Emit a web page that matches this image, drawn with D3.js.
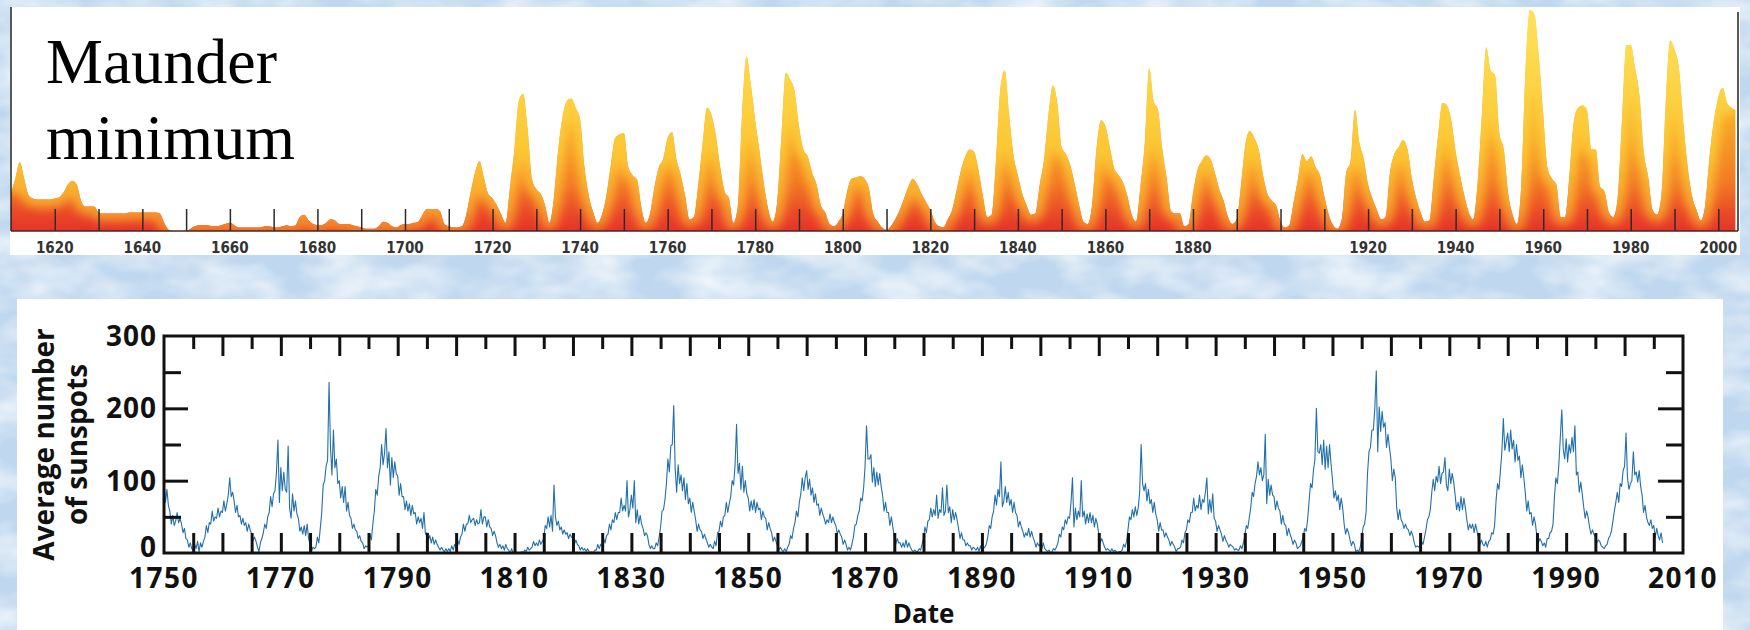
<!DOCTYPE html>
<html lang="en">
<head>
<meta charset="utf-8">
<title>Sunspots</title>
<script src="https://cdn.jsdelivr.net/npm/d3@7.9.0/dist/d3.min.js"></script>
<style>
  html, body { margin: 0; padding: 0; background: #c4dbf1; overflow: hidden; }
  svg { display: block; }
</style>
</head>
<body>
<svg id="chart" width="1750" height="630"></svg>
<script>
// Top strip: yearly sunspot numbers, one value per year from 1610
const stripFirstYear = 1610;
const stripLastYear = 2003.9; // the strip record stops here
const stripValues = [
  33, 45, 59, 45, 31, 28, 27, 27, 27, 27,      // 1610s
  28, 29, 33, 40, 43, 40, 26, 21, 21, 21,      // 1620s
  16, 15, 15, 15, 15, 15, 15, 16, 16, 16,      // 1630s
  16, 16, 16, 16, 15, 7, 1, 0, 0, 0,           // 1640s
  0, 2, 4, 5, 5, 5, 4, 4, 5, 6,                // 1650s
  7, 5, 3, 3, 3, 3, 3, 3, 4, 4,                // 1660s
  3, 3, 4, 5, 4, 5, 12, 14, 9, 6,              // 1670s
  5, 5, 7, 10, 9, 6, 6, 6, 5, 4,               // 1680s
  3, 2, 2, 2, 4, 8, 7, 4, 3, 5,                // 1690s
  6, 6, 7, 8, 14, 19, 19, 19, 17, 6,           // 1700s
  4, 3, 3, 4, 14, 33, 50, 60, 46, 32,          // 1710s
  28, 22, 14, 7, 38, 70, 112, 118, 88, 45,     // 1720s
  36, 32, 22, 7, 28, 70, 98, 112, 114, 106,    // 1730s
  96, 55, 30, 16, 7, 14, 30, 56, 80, 83,       // 1740s
  84, 55, 48, 44, 20, 7, 15, 38, 55, 62,       // 1750s
  80, 85, 62, 48, 30, 10, 12, 40, 75, 106,     // 1760s
  100, 82, 55, 34, 28, 7, 20, 100, 150, 126,   // 1770s
  95, 68, 40, 18, 8, 24, 82, 136, 130, 120,    // 1780s
  90, 70, 64, 50, 40, 22, 16, 6, 4, 8,         // 1790s
  15, 34, 45, 46, 47, 45, 36, 14, 8, 3,        // 1800s
  1, 4, 10, 18, 28, 38, 45, 40, 32, 25,        // 1810s
  18, 8, 4, 3, 10, 18, 35, 52, 64, 70,         // 1820s
  68, 52, 30, 12, 14, 60, 122, 138, 100, 65,   // 1830s
  48, 32, 22, 14, 15, 40, 62, 100, 125, 110,   // 1840s
  72, 66, 56, 40, 22, 8, 6, 24, 72, 95,        // 1850s
  90, 72, 54, 48, 42, 30, 14, 8, 38, 76,       // 1860s
  140, 112, 104, 70, 45, 17, 15, 15, 4, 6,     // 1870s
  32, 52, 60, 65, 62, 50, 36, 26, 12, 6,       // 1880s
  10, 40, 75, 86, 80, 70, 48, 32, 26, 22,      // 1890s
  8, 3, 5, 25, 45, 66, 60, 64, 55, 48,         // 1900s
  30, 14, 5, 2, 10, 50, 60, 104, 76, 62,       // 1910s
  40, 28, 18, 10, 12, 50, 66, 72, 78, 70,      // 1920s
  45, 28, 16, 8, 9, 45, 82, 110, 108, 95,      // 1930s
  68, 48, 30, 16, 10, 40, 100, 158, 138, 134,  // 1940s
  84, 70, 32, 14, 6, 40, 142, 190, 186, 150,   // 1950s
  100, 54, 45, 40, 12, 12, 48, 94, 106, 108,   // 1960s
  104, 70, 70, 38, 34, 16, 12, 28, 95, 160,    // 1970s
  160, 140, 116, 67, 46, 18, 14, 30, 110, 164, // 1980s
  156, 140, 94, 55, 30, 18, 9, 22, 64, 95,     // 1990s
  115, 123, 110, 106                           // 2000-2003
];
const stripLabelYears = [1620, 1640, 1660, 1680, 1700, 1720, 1740, 1760, 1780, 1800,
  1820, 1840, 1860, 1880, 1920, 1940, 1960, 1980, 2000];

// Lower chart: average number of sunspots, four readings per year from 1750
const countFirstYear = 1750;
const readingsPerYear = 4;
const sunspotCounts = [
  // 1750s
  98, 70, 88, 66, 58, 40, 52, 38, 44, 56, 42, 48, 40, 28, 34, 20, 18, 8, 14, 6,
  4, 12, 6, 16, 2, 14, 8, 16, 22, 38, 28, 42, 40, 58, 44, 50, 48, 62, 50, 58,
  // 1760s
  56, 72, 58, 68, 80, 104, 78, 84, 72, 56, 66, 50, 52, 40, 48, 38, 42, 30, 40, 32,
  26, 18, 22, 16, 8, 2, 14, 20, 28, 40, 34, 50, 56, 78, 64, 82, 86, 112, 156, 70,
  // 1770s
  118, 86, 112, 88, 84, 148, 62, 48, 82, 58, 72, 54, 48, 30, 36, 26, 38, 24, 40, 20,
  12, 2, 8, 6, 8, 22, 14, 34, 56, 94, 100, 120, 128, 236, 146, 108, 170, 118, 130, 96,
  // 1780s
  100, 76, 92, 70, 92, 58, 70, 52, 48, 34, 40, 32, 30, 20, 24, 16, 14, 6, 10, 8,
  10, 26, 18, 40, 58, 88, 80, 106, 118, 150, 122, 138, 172, 118, 140, 94, 132, 104, 126, 110,
  // 1790s
  106, 80, 96, 78, 78, 60, 72, 58, 68, 52, 66, 54, 56, 40, 50, 42, 48, 34, 56, 26,
  28, 18, 24, 14, 22, 12, 18, 12, 8, 4, 8, 4, 2, 6, 2, 6, 2, 10, 4, 12,
  // 1800s
  8, 18, 12, 22, 26, 40, 30, 40, 40, 52, 42, 46, 48, 38, 46, 40, 42, 60, 40, 50,
  50, 36, 46, 36, 34, 24, 30, 24, 14, 8, 12, 6, 10, 4, 12, 6, 4, 0, 6, 0,
  // 1810s
  0, 0, 0, 0, 0, 2, 0, 4, 2, 8, 4, 6, 8, 16, 10, 14, 10, 18, 12, 16,
  20, 38, 34, 50, 36, 52, 30, 94, 50, 38, 44, 32, 36, 26, 32, 26, 28, 20, 26, 22,
  // 1820s
  20, 12, 18, 12, 10, 4, 8, 4, 6, 2, 6, 2, 0, 2, 0, 4, 4, 12, 6, 12,
  10, 20, 14, 24, 26, 40, 32, 46, 42, 56, 46, 56, 56, 76, 58, 66, 58, 100, 50, 60,
  // 1830s
  80, 62, 100, 42, 60, 40, 52, 40, 34, 24, 28, 24, 12, 6, 10, 6, 6, 14, 10, 22,
  36, 58, 60, 74, 96, 130, 112, 148, 150, 204, 116, 84, 122, 96, 108, 86, 104, 74, 96, 68,
  // 1840s
  76, 56, 70, 58, 46, 30, 40, 32, 30, 20, 26, 20, 14, 8, 12, 8, 6, 16, 10, 28,
  30, 44, 36, 50, 52, 70, 56, 68, 78, 100, 94, 122, 178, 110, 124, 88, 120, 84, 100, 82,
  // 1850s
  76, 58, 72, 60, 74, 56, 70, 60, 62, 46, 58, 50, 48, 32, 42, 34, 28, 16, 22, 16,
  10, 4, 8, 4, 2, 6, 2, 8, 12, 24, 20, 34, 42, 58, 50, 70, 82, 104, 86, 104,
  // 1860s
  114, 88, 102, 80, 90, 70, 82, 66, 68, 52, 62, 54, 48, 40, 46, 42, 54, 42, 50, 42,
  38, 26, 32, 26, 22, 12, 18, 12, 4, 8, 4, 12, 22, 38, 40, 52, 58, 76, 72, 90,
  // 1870s
  120, 176, 130, 130, 136, 98, 118, 92, 112, 94, 110, 92, 80, 58, 70, 56, 56, 38, 50, 36,
  22, 12, 20, 14, 14, 8, 14, 8, 18, 8, 14, 8, 4, 2, 4, 2, 2, 6, 4, 12,
  // 1880s
  20, 36, 28, 44, 46, 62, 50, 60, 52, 80, 48, 60, 56, 90, 52, 58, 94, 56, 64, 42,
  60, 46, 56, 46, 34, 20, 28, 18, 18, 10, 14, 10, 10, 4, 8, 6, 4, 8, 2, 10,
  // 1890s
  2, 6, 8, 12, 22, 38, 34, 50, 58, 80, 66, 88, 78, 126, 64, 72, 92, 70, 84, 66,
  74, 56, 70, 56, 52, 36, 44, 36, 30, 22, 28, 24, 34, 22, 30, 22, 16, 8, 14, 10,
  // 1900s
  12, 6, 14, 6, 4, 2, 4, 0, 2, 6, 4, 8, 14, 26, 22, 36, 32, 46, 40, 50,
  48, 70, 104, 36, 62, 46, 58, 50, 100, 50, 58, 40, 54, 42, 56, 42, 52, 36, 48, 40,
  // 1910s
  26, 14, 20, 14, 8, 4, 6, 4, 2, 6, 2, 4, 2, 0, 2, 2, 4, 12, 8, 16,
  32, 50, 46, 60, 50, 64, 52, 62, 84, 150, 96, 86, 96, 72, 88, 68, 74, 56, 70, 54,
  // 1920s
  46, 30, 42, 32, 32, 22, 28, 22, 18, 10, 16, 12, 8, 2, 6, 6, 8, 18, 14, 28,
  32, 46, 42, 56, 56, 76, 58, 66, 62, 80, 60, 74, 70, 84, 104, 54, 74, 56, 82, 48,
  // 1930s
  44, 30, 38, 32, 26, 16, 24, 18, 14, 8, 12, 10, 8, 4, 6, 4, 4, 10, 6, 14,
  24, 38, 34, 48, 62, 84, 78, 96, 106, 126, 108, 118, 100, 108, 164, 68, 102, 80, 94, 80,
  // 1940s
  78, 60, 72, 62, 58, 40, 52, 40, 38, 24, 34, 26, 20, 12, 18, 14, 6, 8, 10, 16,
  22, 34, 30, 46, 72, 96, 90, 114, 130, 200, 140, 138, 150, 122, 156, 116, 148, 118, 150, 124,
  // 1950s
  102, 76, 86, 72, 80, 60, 76, 62, 40, 26, 34, 28, 18, 10, 16, 12, 2, 4, 2, 8,
  20, 36, 40, 56, 110, 140, 146, 170, 170, 200, 252, 140, 202, 168, 196, 174, 180, 146, 164, 146,
  // 1960s
  130, 100, 116, 104, 62, 46, 60, 46, 42, 34, 40, 34, 32, 24, 30, 24, 14, 8, 10, 8,
  10, 16, 12, 22, 32, 46, 50, 60, 84, 102, 86, 106, 98, 120, 96, 110, 112, 132, 94, 86,
  // 1970s
  116, 96, 110, 98, 80, 60, 70, 58, 78, 60, 76, 62, 46, 32, 40, 34, 40, 28, 40, 30,
  20, 12, 18, 12, 10, 16, 8, 16, 18, 28, 26, 38, 72, 96, 88, 114, 140, 186, 142, 154,
  // 1980s
  166, 140, 170, 144, 156, 126, 150, 128, 134, 104, 122, 104, 84, 58, 72, 54, 56, 38, 50, 40,
  22, 14, 20, 16, 10, 14, 8, 20, 20, 28, 30, 40, 78, 104, 96, 122, 160, 198, 144, 130,
  // 1990s
  158, 126, 150, 138, 160, 140, 176, 108, 112, 84, 98, 82, 64, 48, 58, 50, 36, 26, 32, 26,
  22, 14, 18, 16, 10, 8, 6, 10, 12, 20, 24, 30, 44, 58, 70, 84, 70, 96, 92, 114,
  // 2000s
  120, 166, 104, 88, 96, 100, 140, 108, 112, 98, 114, 92, 80, 56, 66, 50, 42, 38, 46, 34,
  38, 22, 34, 24, 18, 28, 14
];
const dateTickLabels = [1750, 1770, 1790, 1810, 1830, 1850, 1870, 1890, 1910, 1930, 1950, 1970, 1990, 2010];
const countTickLabels = [0, 100, 200, 300];

const svg = d3.select("#chart");
const defs = svg.append("defs");

// pale blue paper with soft mottling
const mottle = defs.append("filter").attr("id", "mottle")
  .attr("filterUnits", "userSpaceOnUse")
  .attr("x", 0).attr("y", 0).attr("width", 1750).attr("height", 630);
mottle.append("feTurbulence").attr("type", "fractalNoise")
  .attr("baseFrequency", "0.016 0.03").attr("numOctaves", 3).attr("seed", 7);
mottle.append("feColorMatrix").attr("type", "matrix")
  .attr("values", "0 0 0 0 1  0 0 0 0 1  0 0 0 0 1  1.5 0 0 0 -0.55");
svg.append("rect").attr("width", 1750).attr("height", 630).attr("fill", "#c0d8ef");
svg.append("rect").attr("width", 1750).attr("height", 630).attr("fill", "#fff")
  .attr("filter", "url(#mottle)");

// ---------- top strip ----------
const xStrip = d3.scaleLinear().domain([1610, 2004.5]).range([11, 1738]);
const yStrip = d3.scaleLinear().domain([0, 190]).range([231, 10]);

svg.append("rect").attr("x", 10).attr("y", 7).attr("width", 1730).attr("height", 248)
  .attr("fill", "#fff");

const stripData = stripValues.map((v, i) => ({ year: stripFirstYear + i, value: v }));
stripData.push({ year: stripLastYear, value: stripValues[stripValues.length - 1] - 2 });

const stripArea = d3.area()
  .x(d => xStrip(d.year))
  .y0(yStrip(0))
  .y1(d => yStrip(d.value))
  .curve(d3.curveMonotoneX);
const stripLine = d3.line()
  .x(d => xStrip(d.year))
  .y(d => yStrip(d.value))
  .curve(d3.curveMonotoneX);

function addGradient(id, stops) {
  const g = defs.append("linearGradient").attr("id", id)
    .attr("gradientUnits", "userSpaceOnUse")
    .attr("x1", 0).attr("x2", 0)
    .attr("y1", yStrip(0)).attr("y2", yStrip(190));
  stops.forEach(([o, c]) => g.append("stop").attr("offset", o).attr("stop-color", c));
}
addGradient("fire", [[0, "#e4332a"], [0.07, "#ea4628"], [0.22, "#f27a24"], [0.45, "#f7a025"], [0.75, "#fbbf28"], [1, "#fdd22c"]]);
addGradient("glow", [[0, "#f37a28"], [0.12, "#f8a52b"], [0.35, "#fcc632"], [1, "#ffe25a"]]);

const soft = defs.append("filter").attr("id", "soft")
  .attr("filterUnits", "userSpaceOnUse")
  .attr("x", 0).attr("y", 0).attr("width", 1750).attr("height", 260);
soft.append("feGaussianBlur").attr("stdDeviation", 5);

defs.append("clipPath").attr("id", "stripClip")
  .append("path").attr("d", stripArea(stripData));

svg.append("path").attr("d", stripArea(stripData)).attr("fill", "url(#fire)");
svg.append("g").attr("clip-path", "url(#stripClip)")
  .append("path").attr("d", stripLine(stripData))
  .attr("fill", "none")
  .attr("stroke", "url(#glow)")
  .attr("stroke-width", 16)
  .attr("filter", "url(#soft)");

// baseline, decade ticks and side rules
svg.append("line")
  .attr("x1", xStrip(1610)).attr("x2", xStrip(2004.5))
  .attr("y1", yStrip(0)).attr("y2", yStrip(0))
  .attr("stroke", "#4a2620").attr("stroke-width", 1.6);

const stripTicks = svg.append("g")
  .attr("transform", `translate(0,${yStrip(0)})`)
  .call(d3.axisBottom(xStrip).tickValues(d3.range(1620, 2001, 10)).tickSize(-22).tickFormat(""));
stripTicks.select(".domain").remove();
stripTicks.selectAll(".tick line").attr("stroke", "#2b2b2b").attr("stroke-width", 1.5);

svg.append("line").attr("x1", xStrip(1610)).attr("x2", xStrip(1610))
  .attr("y1", 7).attr("y2", yStrip(0)).attr("stroke", "#222").attr("stroke-width", 1.5);
svg.append("line").attr("x1", xStrip(2004.5)).attr("x2", xStrip(2004.5))
  .attr("y1", 12).attr("y2", yStrip(0)).attr("stroke", "#222").attr("stroke-width", 1.5);

svg.append("g").selectAll("text")
  .data(stripLabelYears)
  .join("text")
  .attr("x", d => xStrip(d))
  .attr("y", 253)
  .attr("text-anchor", "middle")
  .attr("font-family", "'DejaVu Sans Condensed', 'DejaVu Sans', sans-serif")
  .attr("font-weight", "bold")
  .attr("font-size", 15)
  .attr("fill", "#333")
  .text(d => d);

svg.append("g").selectAll("text")
  .data(["Maunder", "minimum"])
  .join("text")
  .attr("x", 46)
  .attr("y", (d, i) => 83 + i * 75.5)
  .attr("font-family", "'Liberation Serif', 'Times New Roman', serif")
  .attr("font-size", 64)
  .attr("fill", "#000")
  .text(d => d);

// ---------- lower chart ----------
svg.append("rect").attr("x", 17).attr("y", 299).attr("width", 1706).attr("height", 331)
  .attr("fill", "#fff");

const xDate = d3.scaleLinear().domain([1750, 2010]).range([164, 1683]);
const yCount = d3.scaleLinear().domain([0, 300]).range([553, 336]);

const countData = sunspotCounts.map((v, i) => ({ year: countFirstYear + i / readingsPerYear, value: v }));

svg.append("path")
  .datum(countData)
  .attr("fill", "none")
  .attr("stroke", "#2270ab")
  .attr("stroke-width", 1.1)
  .attr("stroke-linejoin", "round")
  .attr("d", d3.line().x(d => xDate(d.year)).y(d => yCount(d.value)));

function ticks(axis, transform) {
  const g = svg.append("g").attr("transform", transform).call(axis);
  g.select(".domain").remove();
  g.selectAll(".tick text").remove();
  g.selectAll(".tick line").attr("stroke", "#111").attr("stroke-width", 3);
}
const fiveYears = d3.range(1755, 2010, 5);
ticks(d3.axisBottom(xDate).tickValues(fiveYears).tickSize(-20), `translate(0,${yCount(0)})`);
ticks(d3.axisTop(xDate).tickValues(d3.range(1760, 2010, 10)).tickSize(-20), `translate(0,${yCount(300)})`);
ticks(d3.axisTop(xDate).tickValues(d3.range(1755, 2010, 10)).tickSize(-13), `translate(0,${yCount(300)})`);
ticks(d3.axisLeft(yCount).tickValues([100, 200]).tickSize(-24), `translate(${xDate(1750)},0)`);
ticks(d3.axisLeft(yCount).tickValues([50, 150, 250]).tickSize(-17), `translate(${xDate(1750)},0)`);
ticks(d3.axisRight(yCount).tickValues([100, 200]).tickSize(-25), `translate(${xDate(2010)},0)`);
ticks(d3.axisRight(yCount).tickValues([50, 150, 250]).tickSize(-17), `translate(${xDate(2010)},0)`);

svg.append("rect")
  .attr("x", xDate(1750)).attr("y", yCount(300))
  .attr("width", xDate(2010) - xDate(1750)).attr("height", yCount(0) - yCount(300))
  .attr("fill", "none").attr("stroke", "#111").attr("stroke-width", 3);

const labelFont = "'Open Sans', 'Noto Sans', sans-serif";

svg.append("g").selectAll("text")
  .data(dateTickLabels)
  .join("text")
  .attr("x", d => xDate(d))
  .attr("y", 588)
  .attr("text-anchor", "middle")
  .attr("font-family", labelFont)
  .attr("font-weight", "bold")
  .attr("font-size", 28)
  .attr("letter-spacing", 1.5)
  .attr("fill", "#111")
  .text(d => d);

svg.append("g").selectAll("text")
  .data(countTickLabels)
  .join("text")
  .attr("x", 157)
  .attr("y", d => yCount(d) + (d === 0 ? 4 : 10))
  .attr("text-anchor", "end")
  .attr("font-family", labelFont)
  .attr("font-weight", "bold")
  .attr("font-size", 28)
  .attr("letter-spacing", 1)
  .attr("fill", "#111")
  .text(d => d);

svg.append("text")
  .attr("x", (xDate(1750) + xDate(2010)) / 2)
  .attr("y", 623)
  .attr("text-anchor", "middle")
  .attr("font-family", labelFont)
  .attr("font-weight", "bold")
  .attr("font-size", 26)
  .attr("fill", "#111")
  .text("Date");

const yMid = (yCount(0) + yCount(300)) / 2;
svg.append("g").selectAll("text")
  .data(["Average number", "of sunspots"])
  .join("text")
  .attr("transform", (d, i) => `translate(${54 + i * 33},${yMid}) rotate(-90)`)
  .attr("text-anchor", "middle")
  .attr("font-family", labelFont)
  .attr("font-weight", "bold")
  .attr("font-size", 28)
  .attr("fill", "#111")
  .text(d => d);
</script>
</body>
</html>
